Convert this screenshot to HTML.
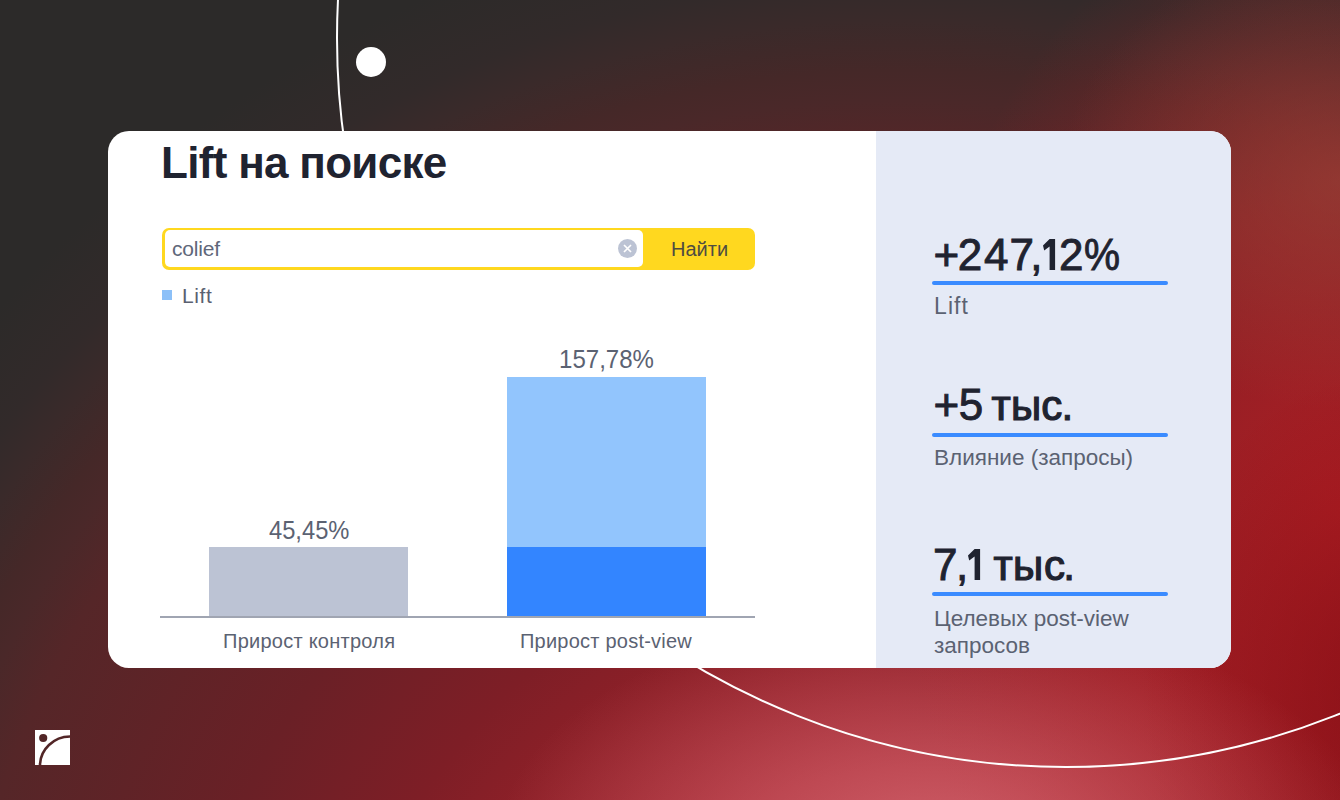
<!DOCTYPE html>
<html><head><meta charset="utf-8">
<style>
html,body{margin:0;padding:0;background:#2c2a29}
body{width:1340px;height:800px;overflow:hidden;position:relative;font-family:"Liberation Sans",sans-serif}
#bg{position:absolute;left:0;top:0;width:1340px;height:800px;
background:
 radial-gradient(ellipse 440px 240px at 935px 850px, rgba(225,120,130,0.7), rgba(225,120,130,0) 100%),
 radial-gradient(ellipse 280px 230px at 1340px 180px, rgba(165,75,60,0.5), rgba(165,75,60,0) 100%),
 radial-gradient(ellipse 240px 320px at 1380px 690px, rgba(125,5,12,0.5), rgba(125,5,12,0) 100%),
 radial-gradient(ellipse 440px 630px at 1340px 510px, rgba(176,30,36,0.95), rgba(176,30,36,0.55) 50%, rgba(176,30,36,0) 100%),
 radial-gradient(circle 1300px at 900px 1100px, #ae2832 0px, #a42630 330px, #8e2028 472px, #7e1e26 566px, #6a2026 721px, #552628 950px, #4a2829 1000px, #452828 1030px, #3a2a2a 1080px, #322a2a 1120px, #2c2a29 1200px, #2c2a29 1300px);
}
.abs{position:absolute}
.card{position:absolute;left:108px;top:131px;width:1123px;height:537px;background:#fff;border-radius:21px;overflow:hidden}
.side{position:absolute;left:768px;top:0;width:355px;height:537px;background:#e5eaf6}
.t{position:absolute;white-space:nowrap;line-height:1}
.big{font-size:44px;color:#1f2330;-webkit-text-stroke:0.9px #1f2330}
.lbl{font-size:22px;color:#5b6272}
</style></head><body>
<div id="bg"></div>
<svg class="abs" style="left:0;top:0" width="1340" height="800" viewBox="0 0 1340 800">
 <circle cx="1066" cy="38" r="729" fill="none" stroke="#fff" stroke-width="2"/>
 <circle cx="371" cy="62" r="15" fill="#fff"/>
</svg>
<div class="card">
 <div class="t" style="left:53px;top:10px;font-size:44px;font-weight:bold;color:#1f2330;letter-spacing:-0.7px">Lift на поиске</div>
 <!-- search -->
 <div class="abs" style="left:53.7px;top:96.6px;width:593.2px;height:42.7px;background:#ffd81f;border-radius:7px"></div>
 <div class="abs" style="left:56.5px;top:99.4px;width:478.5px;height:37.1px;background:#fff;border-radius:5px"></div>
 <div class="t" style="left:64px;top:107px;font-size:21px;color:#60677a;letter-spacing:-0.2px">colief</div>
 <svg class="abs" style="left:510px;top:108px" width="19" height="19" viewBox="0 0 19 19">
  <circle cx="9.5" cy="9.5" r="9.5" fill="#bcc3d4"/>
  <path d="M6 6L13 13M13 6L6 13" stroke="#fff" stroke-width="1.7"/>
 </svg>
 <div class="t" style="left:563px;top:108px;font-size:20px;color:#4e4c42">Найти</div>
 <!-- legend -->
 <div class="abs" style="left:54px;top:159px;width:10px;height:10px;background:#8cc0f8"></div>
 <div class="t" style="left:74px;top:154px;font-size:21px;color:#5a6070;letter-spacing:0.6px">Lift</div>
 <!-- chart -->
 <div class="t" style="left:161px;top:385.5px;font-size:26px;color:#5b6272;transform:scaleX(0.912);transform-origin:0 0">45,45%</div>
 <div class="abs" style="left:101px;top:416px;width:199px;height:69px;background:#bcc3d4"></div>
 <div class="t" style="left:450.5px;top:215.3px;font-size:26px;color:#5b6272;transform:scaleX(0.925);transform-origin:0 0">157,78%</div>
 <div class="abs" style="left:399px;top:246px;width:199px;height:170px;background:#92c5fd"></div>
 <div class="abs" style="left:399px;top:416px;width:199px;height:69px;background:#3385ff"></div>
 <div class="abs" style="left:52px;top:485px;width:595px;height:2px;background:#a0a5b2"></div>
 <div class="t" style="left:115px;top:500px;font-size:20px;color:#5b6272;letter-spacing:0.25px">Прирост контроля</div>
 <div class="t" style="left:412px;top:500px;font-size:20px;color:#5b6272;letter-spacing:0.23px">Прирост post-view</div>
 <!-- side -->
 <div class="side">
  <div class="t big" style="left:57.5px;top:102px">+</div>
  <div class="t big" style="left:81.8px;top:102px">2</div>
  <div class="t big" style="left:108.1px;top:102px">4</div>
  <div class="t big" style="left:133.5px;top:102px">7</div>
  <div class="t big" style="left:154.3px;top:102px">,</div>
  <svg class="abs" style="left:167.3px;top:107.8px" width="13" height="32" viewBox="0 0 13 32"><path d="M6.6 0H12.1V31H6.6V7.6L1.2 11.6L0 6.6Z" fill="#1f2330"/></svg>
  <div class="t big" style="left:183.0px;top:102px">2</div>
  <div class="t big" style="left:208.0px;top:102px;transform:scaleX(0.92);transform-origin:0 0">%</div>
  <div class="abs" style="left:56px;top:150px;width:236px;height:4px;background:#3a8bff;border-radius:2px"></div>
  <div class="t lbl" style="left:58px;top:163.5px;font-size:23px;letter-spacing:1.1px">Lift</div>
  <div class="t big" style="left:57.4px;top:252px">+</div>
  <div class="t big" style="left:82.7px;top:252px">5</div>
  <div class="t big" style="left:115.6px;top:253.7px;font-size:42px;-webkit-text-stroke:1.2px #1f2330">т</div>
  <div class="t big" style="left:135.0px;top:253.7px;font-size:42px;-webkit-text-stroke:1.2px #1f2330">ы</div>
  <div class="t big" style="left:165.3px;top:253.7px;font-size:42px;-webkit-text-stroke:1.2px #1f2330">с</div>
  <div class="t big" style="left:185.3px;top:252px">.</div>
  <div class="abs" style="left:56px;top:302px;width:236px;height:4px;background:#3a8bff;border-radius:2px"></div>
  <div class="t lbl" style="left:58px;top:315.6px;font-size:22.5px">Влияние (запросы)</div>
  <div class="t big" style="left:57.0px;top:412px">7</div>
  <div class="t big" style="left:79.9px;top:412px">,</div>
  <svg class="abs" style="left:91.7px;top:418.2px" width="13" height="32" viewBox="0 0 13 32"><path d="M6.6 0H12.1V31H6.6V7.6L1.2 11.6L0 6.6Z" fill="#1f2330"/></svg>
  <div class="t big" style="left:117.5px;top:413.7px;font-size:42px;-webkit-text-stroke:1.2px #1f2330">т</div>
  <div class="t big" style="left:136.9px;top:413.7px;font-size:42px;-webkit-text-stroke:1.2px #1f2330">ы</div>
  <div class="t big" style="left:168.0px;top:413.7px;font-size:42px;-webkit-text-stroke:1.2px #1f2330">с</div>
  <div class="t big" style="left:187.0px;top:412px">.</div>
  <div class="abs" style="left:56px;top:461px;width:236px;height:4px;background:#3a8bff;border-radius:2px"></div>
  <div class="t lbl" style="left:58px;top:473.5px;line-height:27px;font-size:22.5px">Целевых post-view<br>запросов</div>
 </div>
</div>
<svg class="abs" style="left:35px;top:730px" width="35" height="35" viewBox="0 0 35 35">
 <rect width="35" height="35" fill="#fff"/>
 <circle cx="8.2" cy="8" r="4.1" fill="#522627"/>
 <path d="M5 35.5 A30.5 29 0 0 1 35.5 6.5" fill="none" stroke="#522627" stroke-width="2.6"/>
</svg>
</body></html>
